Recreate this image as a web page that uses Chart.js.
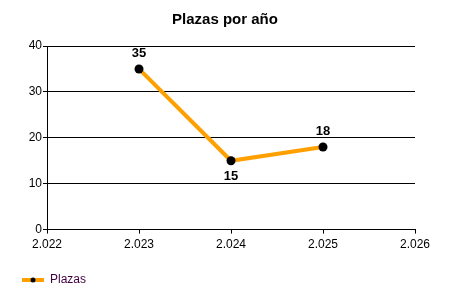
<!DOCTYPE html>
<html>
<head>
<meta charset="utf-8">
<script src="https://cdn.jsdelivr.net/npm/chart.js@4/dist/chart.umd.min.js"></script>
<style>
  html, body { margin: 0; padding: 0; background: #fff; }
  #wrap { width: 450px; height: 300px; }
</style>
</head>
<body>
<div id="wrap"><canvas id="grafica"></canvas></div>
<script>
// Datos
const anios = [2023, 2024, 2025];
const plazas = [35, 15, 18];
const posEtiqueta = ["arriba", "abajo", "arriba"];

const naranja = "#ffa000";
const fuente = "'Liberation Sans', Arial, sans-serif";

// 2022 -> "2.022"
function formatoMiles(v) {
  return String(v).replace(/\B(?=(\d{3})+(?!\d))/g, ".");
}

// icono de la leyenda: hueco a la izquierda, luego línea naranja con punto negro
function iconoLeyenda() {
  const c = document.createElement("canvas");
  c.width = 38;
  c.height = 8;
  const g = c.getContext("2d");
  g.fillStyle = naranja;
  g.fillRect(16, 2, 22, 4);
  g.fillStyle = "#000";
  g.beginPath();
  g.arc(27, 4, 2.5, 0, Math.PI * 2);
  g.fill();
  return c;
}

// etiquetas de valor sobre/bajo cada punto
const etiquetas = {
  id: "etiquetas",
  afterDatasetsDraw(chart) {
    const ctx = chart.ctx;
    const meta = chart.getDatasetMeta(0);
    ctx.save();
    ctx.font = "bold 13px " + fuente;
    ctx.fillStyle = "#000";
    ctx.textAlign = "center";
    ctx.textBaseline = "middle";
    meta.data.forEach((p, i) => {
      const dy = posEtiqueta[i] === "abajo" ? 16 : -16;
      ctx.fillText(String(plazas[i]), p.x, p.y + dy);
    });
    ctx.restore();
  }
};

const ctx = document.getElementById("grafica").getContext("2d");

new Chart(ctx, {
  type: "line",
  data: {
    datasets: [{
      label: "Plazas",
      data: anios.map((a, i) => ({ x: a, y: plazas[i] })),
      borderColor: naranja,
      borderWidth: 4,
      pointBackgroundColor: "#000",
      pointBorderColor: "#000",
      pointRadius: 4.5,
      pointBorderWidth: 0,
      tension: 0
    }]
  },
  options: {
    responsive: true,
    maintainAspectRatio: false,
    animation: false,
    layout: { padding: { left: 0, right: 0, top: 0, bottom: 4 } },
    plugins: {
      title: {
        display: true,
        text: "Plazas por año",
        color: "#000",
        font: { family: fuente, size: 15, weight: "bold" },
        padding: { top: 11, bottom: 17 }
      },
      legend: {
        position: "bottom",
        align: "start",
        labels: {
          color: "#400040",
          font: { family: fuente, size: 12 },
          usePointStyle: true,
          pointStyleWidth: 38,
          boxHeight: 8,
          padding: 6,
          generateLabels(chart) {
            return [{
              text: "Plazas",
              pointStyle: iconoLeyenda(),
              fontColor: "#400040",
              datasetIndex: 0,
              hidden: false
            }];
          }
        }
      },
      tooltip: { enabled: false }
    },
    scales: {
      x: {
        type: "linear",
        min: 2022,
        max: 2026,
        ticks: {
          stepSize: 1,
          color: "#000",
          font: { family: fuente, size: 12 },
          padding: 4,
          callback: v => formatoMiles(v)
        },
        grid: { color: "transparent", tickColor: "#000", tickLength: 4, drawOnChartArea: false },
        border: { display: true, color: "#000", width: 1 },
        afterFit(scale) { scale.height += 12; }
      },
      y: {
        min: 0,
        max: 40,
        ticks: {
          stepSize: 10,
          color: "#000",
          font: { family: fuente, size: 12 },
          padding: 1
        },
        grid: { color: "#000", tickColor: "#000", tickLength: 4 },
        border: { display: true, color: "#000", width: 1 },
        afterFit(scale) { scale.width = 47; }
      },
      // eje vacío a la derecha para dejar el margen del gráfico
      margen: {
        type: "linear",
        position: "right",
        display: true,
        ticks: { display: false },
        grid: { display: false },
        border: { display: false },
        afterFit(scale) { scale.width = 35; }
      }
    }
  },
  plugins: [etiquetas]
});
</script>
</body>
</html>
